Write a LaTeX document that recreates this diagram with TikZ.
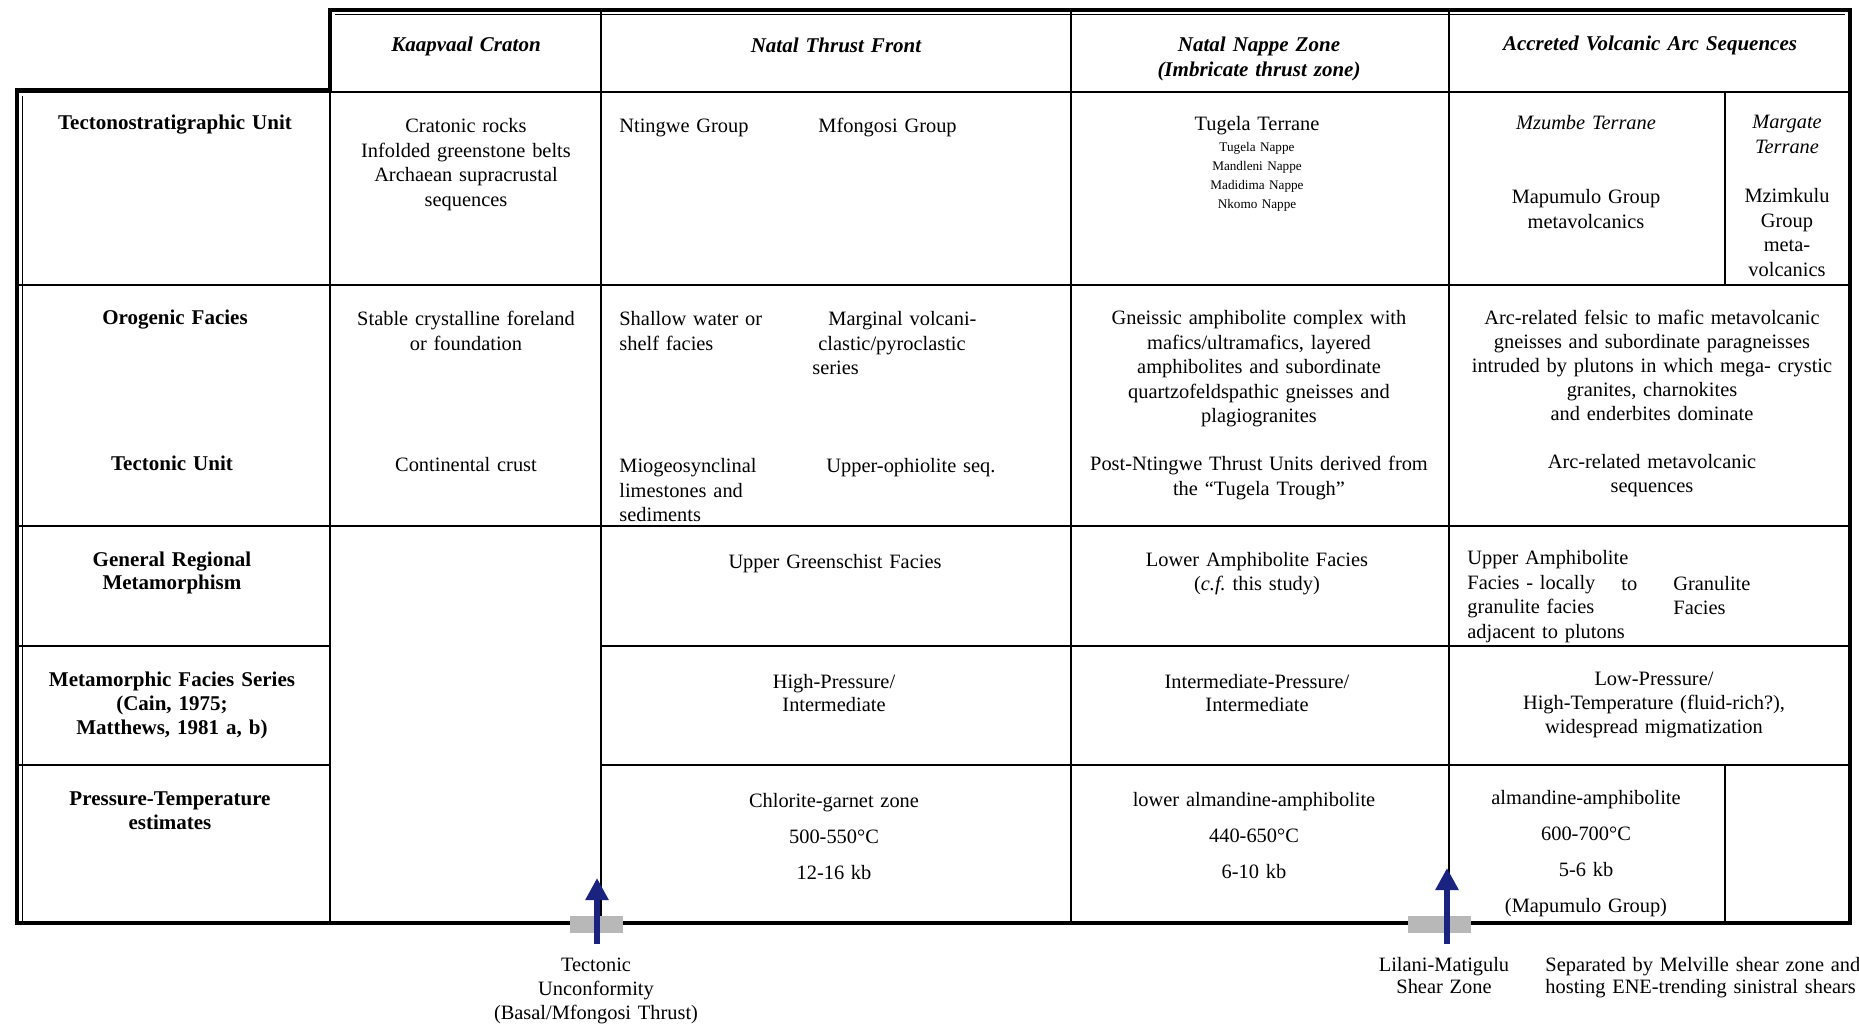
\documentclass[tikz,border=0pt]{standalone}
\usepackage{fontspec}
\setmainfont{Liberation Serif}
\usetikzlibrary{arrows.meta}
\definecolor{navy}{RGB}{26,36,128}
\begin{document}
\begin{tikzpicture}[x=0.5pt,y=-0.5pt,
  frame/.style={line width=1.8pt,line join=miter},
  rule/.style={line width=1.1pt},
  txt/.style={inner sep=0pt,anchor=base,align=center,text width=#1,font=\fontsize{10.2}{12.25}\selectfont},
  txt/.default=130pt,
  ltxt/.style={txt=#1,align=left,anchor=base west},
  ltxt/.default=120pt,
  itxt/.style={txt=#1,font=\fontsize{10.2}{12.5}\selectfont\itshape},
  itxt/.default=130pt,
  hdr/.style={txt=#1,font=\fontsize{10.5}{12.5}\selectfont\bfseries\itshape},
  hdr/.default=180pt,
  lab/.style={txt=150pt,font=\fontsize{10.5}{12}\selectfont\bfseries},
  smalltxt/.style={txt=90pt,font=\fontsize{6.6}{9.5}\selectfont},
  ptrow/.style={txt=#1,font=\fontsize{10.2}{18}\selectfont},
  ptrow/.default=180pt,
  upar/.style={draw=navy,line width=3pt,-{Triangle[length=11pt,width=11pt]}},
  haze/.style={fill=black!28,draw=none}
]
\fill[white] (0,0) rectangle (1859,1026);
\useasboundingbox (0,0) rectangle (1859,1026);

% internal rules
\draw[rule] (330,10) -- (330,923);
\draw[rule] (601,10) -- (601,923);
\draw[rule] (1071,10) -- (1071,923);
\draw[rule] (1449,10) -- (1449,923);
\draw[rule] (1725,92) -- (1725,285);
\draw[rule] (1725,765) -- (1725,923);
\draw[rule] (17,92) -- (1850,92);
\draw[rule] (17,285) -- (1850,285);
\draw[rule] (17,526) -- (1850,526);
\draw[rule] (17,646) -- (330,646);
\draw[rule] (601,646) -- (1850,646);
\draw[rule] (17,765) -- (330,765);
\draw[rule] (601,765) -- (1850,765);
% outer frame
\draw[frame] (17,923) -- (17,90) -- (330,90) -- (330,10) -- (1850,10) -- (1850,923) -- cycle;
\draw[line width=0.5pt] (22,923) -- (22,96);
\draw[line width=0.5pt] (335,15) -- (1845,15);

% header
\node[hdr] (hK) at (466,52) {Kaapvaal Craton};
\node[hdr] (hN) at (836,53) {Natal Thrust Front};
\node[hdr] (hZ) at (1259,52) {Natal Nappe Zone\\(Imbricate thrust zone)};
\node[hdr=195pt] (hA) at (1650,51) {Accreted Volcanic Arc Sequences};

% row labels
\node[lab] (l1) at (175,130) {Tectonostratigraphic Unit};
\node[lab] (l2) at (175,325) {Orogenic Facies};
\node[lab] (l2b) at (172,471) {Tectonic Unit};
\node[lab,font=\fontsize{10.5}{11.5}\selectfont\bfseries] (l3) at (172,567) {General Regional\\Metamorphism};
\node[lab] (l4) at (172,686) {Metamorphic Facies Series\\(Cain, 1975;\\Matthews, 1981 a, b)};
\node[lab] (l5) at (170,805) {Pressure-Temperature\\estimates};

% row 1
\node[txt] (k1) at (466,133) {Cratonic rocks\\Infolded greenstone belts\\Archaean supracrustal\\sequences};
\node[ltxt] (n1a) at (619,133) {Ntingwe Group};
\node[ltxt] (n1b) at (818,133) {Mfongosi Group};
\node[txt=180pt] (z1) at (1257,131) {Tugela Terrane};
\node[smalltxt] (z1b) at (1257,152) {Tugela Nappe\\Mandleni Nappe\\Madidima Nappe\\Nkomo Nappe};
\node[itxt] (a1) at (1586,130) {Mzumbe Terrane};
\node[txt] (a1b) at (1586,204) {Mapumulo Group\\metavolcanics};
\node[itxt=60pt] (m1) at (1787,129) {Margate\\Terrane};
\node[txt=60pt] (m1b) at (1787,203) {Mzimkulu\\Group\\meta-\\volcanics};

% row 2
\node[txt] (k2) at (466,326) {Stable crystalline foreland\\or foundation};
\node[txt] (k2b) at (466,472) {Continental crust};
\node[ltxt=100pt] (n2a) at (619,326) {Shallow water or\\shelf facies};
\node[ltxt=110pt] (n2b) at (812,326) {\hspace*{8pt}Marginal volcani-\\\hspace*{3pt}clastic/pyroclastic\\series};
\node[ltxt=100pt] (n2c) at (619,473) {Miogeosynclinal\\limestones and\\sediments};
\node[ltxt=110pt] (n2d) at (826,473) {Upper-ophiolite seq.};
\node[txt=186pt] (z2) at (1259,325) {Gneissic amphibolite complex with\\mafics/ultramafics, layered\\amphibolites and subordinate\\quartzofeldspathic gneisses and\\plagiogranites};
\node[txt=186pt] (z2b) at (1259,471) {Post-Ntingwe Thrust Units derived from\\the ``Tugela Trough''};
\node[txt=198pt,font=\fontsize{10.2}{12}\selectfont] (a2) at (1652,325) {Arc-related felsic to mafic metavolcanic\\gneisses and subordinate paragneisses\\intruded by plutons in which mega- crystic\\granites, charnokites\\and enderbites dominate};
\node[txt=198pt,font=\fontsize{10.2}{12}\selectfont] (a2b) at (1652,469) {Arc-related metavolcanic\\sequences};

% row 3
\node[txt=200pt] (n3) at (835,568) {Upper Greenschist Facies};
\node[txt=180pt,font=\fontsize{10.2}{12}\selectfont] (z3) at (1257,567) {Lower Amphibolite Facies\\(\textit{c.f.}\ this study)};
\node[ltxt=150pt] (a3) at (1467,565) {Upper Amphibolite\\Facies - locally\\granulite facies\\adjacent to plutons};
\node[ltxt=20pt] (a3to) at (1621,590) {to};
\node[ltxt=60pt] (a3g) at (1673,590) {Granulite\\Facies};

% row 4
\node[txt=200pt,font=\fontsize{10.2}{11.5}\selectfont] (n4) at (834,688) {High-Pressure/\\Intermediate};
\node[txt=180pt,font=\fontsize{10.2}{11.5}\selectfont] (z4) at (1257,688) {Intermediate-Pressure/\\Intermediate};
\node[txt=198pt,font=\fontsize{10.2}{12}\selectfont] (a4) at (1654,685) {Low-Pressure/\\High-Temperature (fluid-rich?),\\widespread migmatization};

% row 5
\node[ptrow] (n5) at (834,807) {Chlorite-garnet zone\\500-550°C\\12-16 kb};
\node[ptrow] (z5) at (1254,806) {lower almandine-amphibolite\\440-650°C\\6-10 kb};
\node[ptrow=130pt] (a5) at (1586,804) {almandine-amphibolite\\600-700°C\\5-6 kb\\(Mapumulo Group)};

% arrows and notes below the table
\fill[haze] (570,916) rectangle (623,933);
\fill[haze] (1408,916) rectangle (1471,933);
\coordinate (a1base) at (597,944);
\coordinate (a1tip) at (597,878);
\coordinate (a2base) at (1447,944);
\coordinate (a2tip) at (1447,868);
\draw[upar] (a1base) -- (a1tip);
\draw[upar] (a2base) -- (a2tip);
\node[txt=140pt,font=\fontsize{10.2}{12}\selectfont] (t1) at (596,971) {Tectonic\\Unconformity\\(Basal/Mfongosi Thrust)};
\node[txt=100pt,font=\fontsize{10.2}{11}\selectfont] (t2) at (1444,971) {Lilani-Matigulu\\Shear Zone};
\node[ltxt=160pt,font=\fontsize{10.2}{11}\selectfont] (t3) at (1545,971) {Separated by Melville shear zone and\\hosting ENE-trending sinistral shears};
\end{tikzpicture}
\end{document}
